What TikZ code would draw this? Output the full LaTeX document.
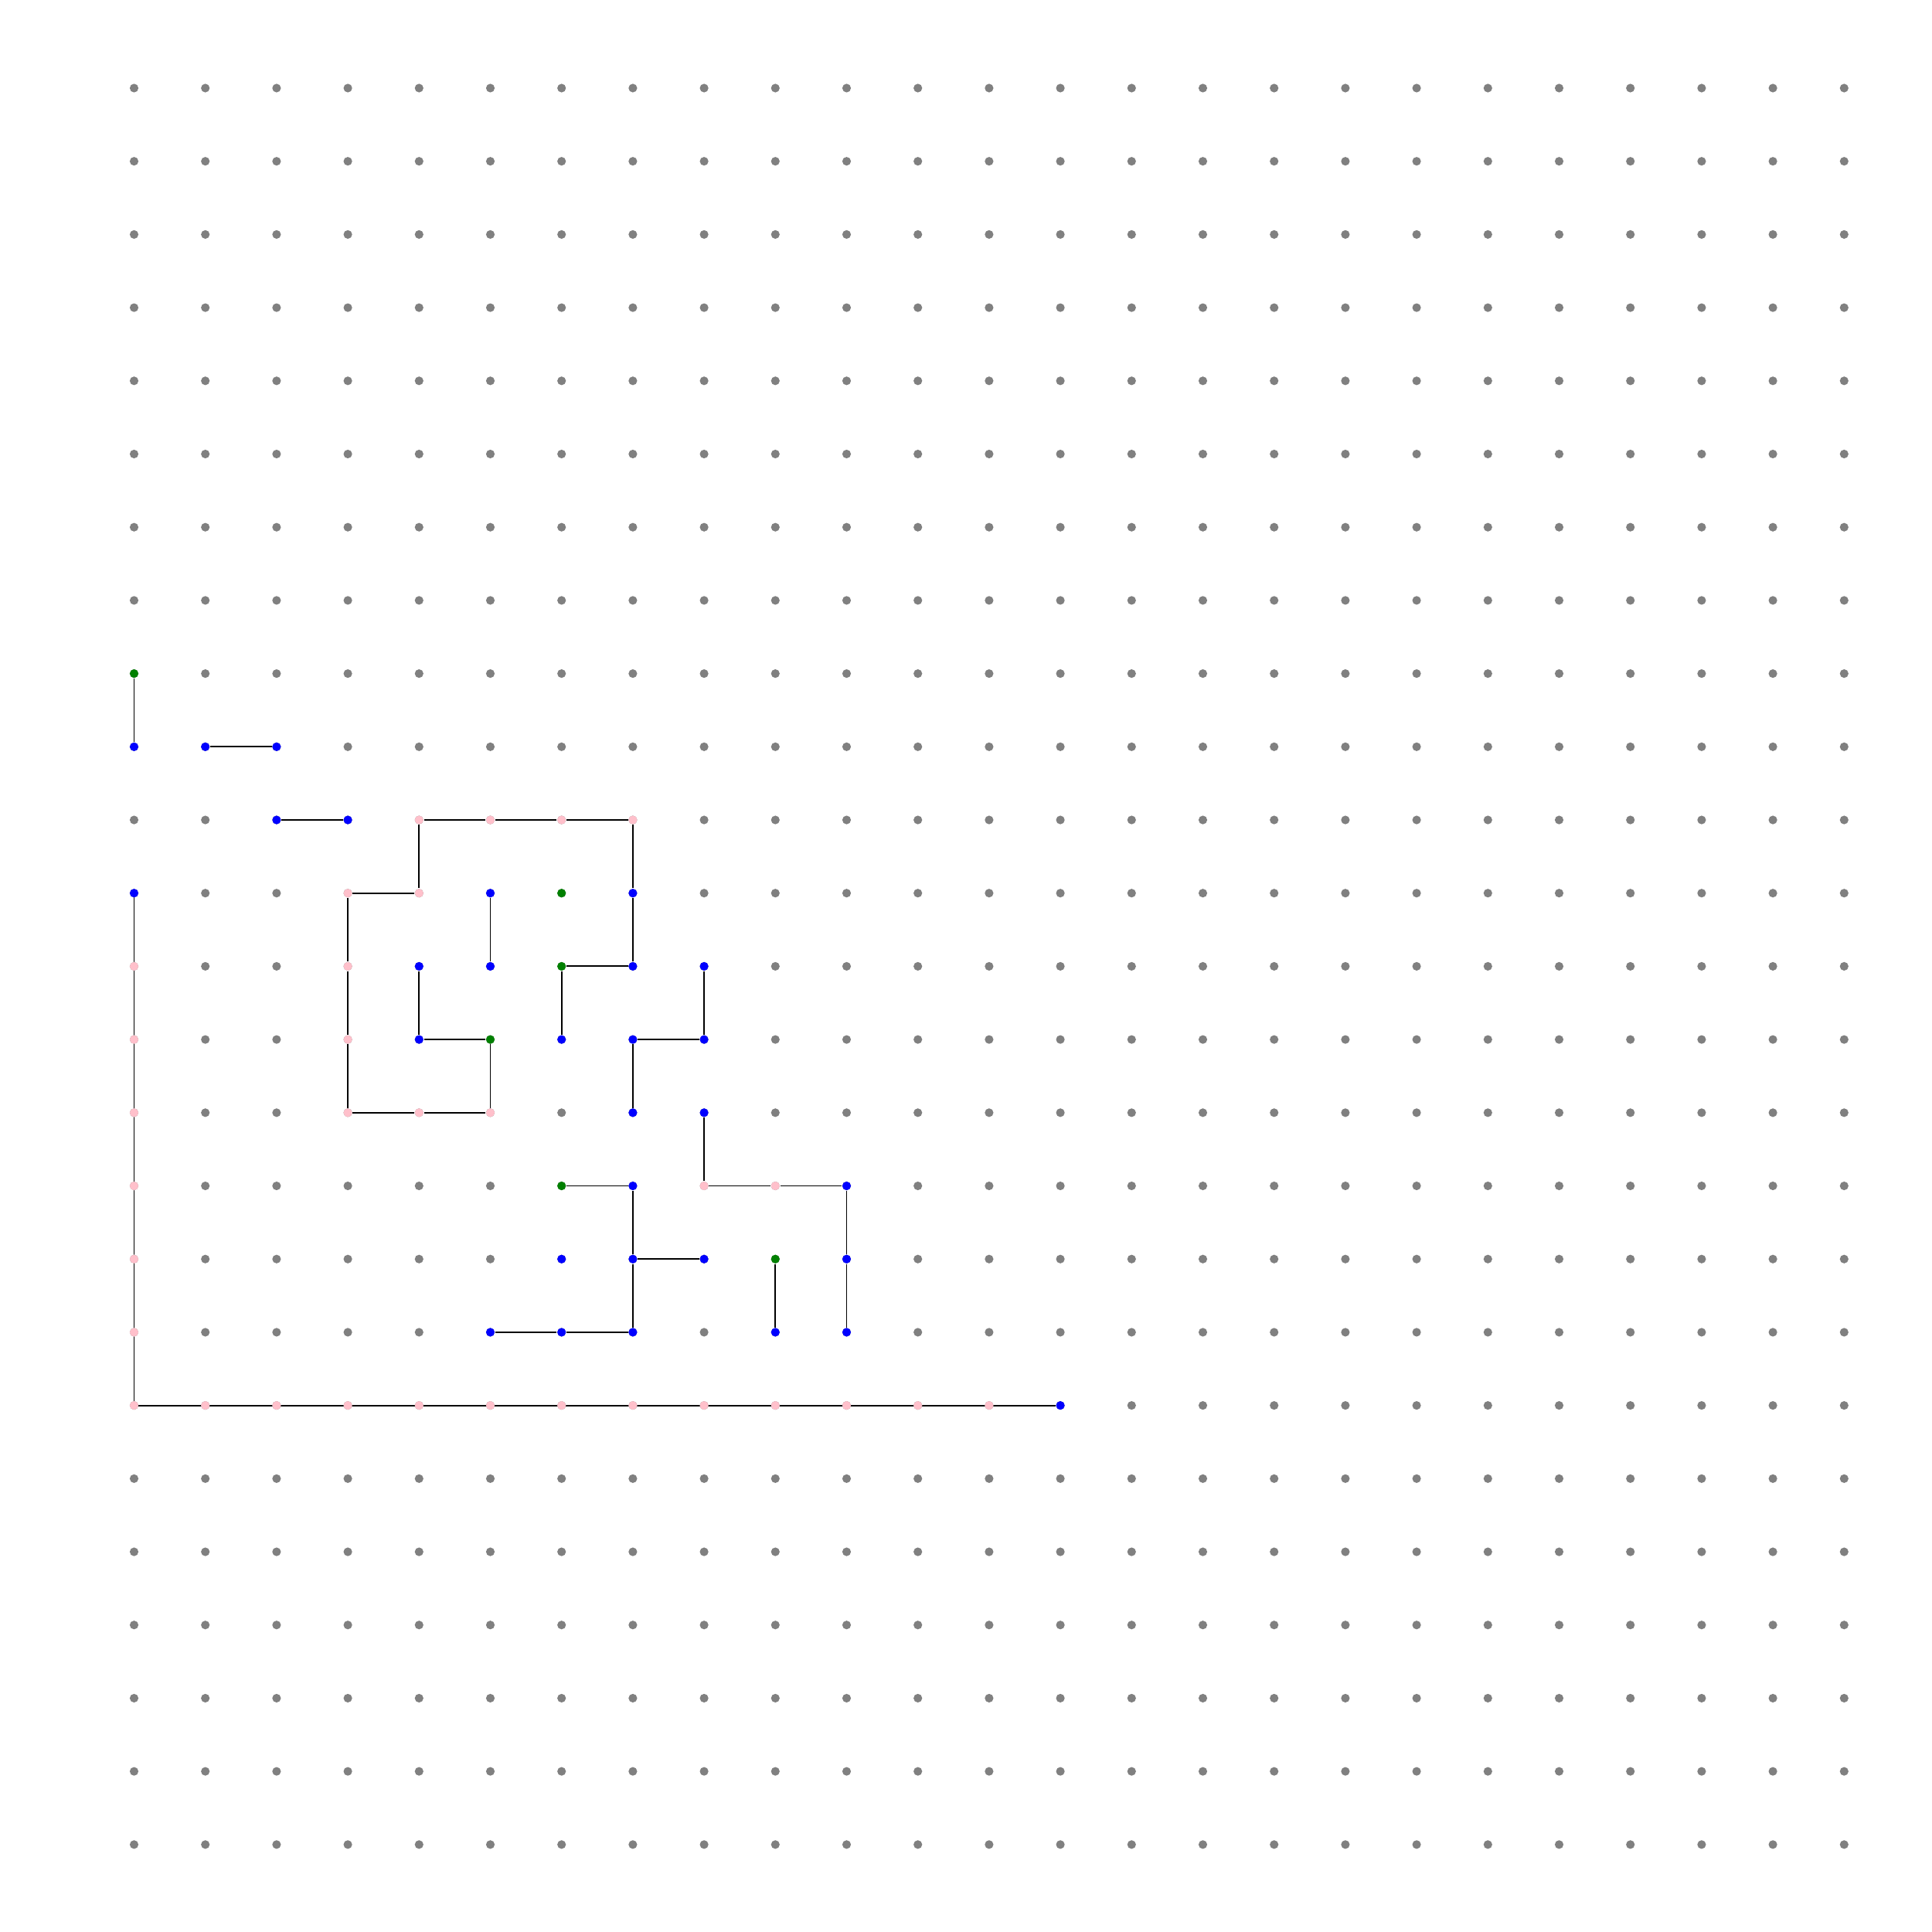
\documentclass[tikz,border=0pt]{standalone}
\usepackage{tikz}
\usetikzlibrary{positioning,backgrounds}

\definecolor{dotgray}{RGB}{128,128,128}
\definecolor{dotblue}{RGB}{0,0,255}
\definecolor{dotgreen}{RGB}{0,128,0}
\definecolor{dotpink}{RGB}{255,192,203}

\begin{document}
\begin{tikzpicture}[x=0.922cm, y=-0.947cm,
    dot/.style={circle, inner sep=0pt, minimum size=0.112cm, draw=none},
    free/.style={dot, fill=dotgray},
    blue/.style={dot, fill=dotblue},
    green/.style={dot, fill=dotgreen},
    pink/.style={dot, fill=dotpink},
    link/.style={draw=black, line width=0.55pt}]

    \useasboundingbox (-1.735cm,1.14cm) rectangle (23.265cm,-23.86cm);

    % the grid
    \foreach \i in {0,...,24}
        \foreach \j in {0,...,24}
            \node[free] (g-\i-\j) at (\i,\j) {};

    % coloured vertices
    \foreach \i/\j in {0/9, 1/9, 2/9, 2/10, 3/10, 0/11, 5/11, 7/11, 4/12, 5/12,
                       7/12, 8/12, 4/13, 6/13, 7/13, 8/13, 7/14, 8/14, 7/15,
                       10/15, 6/16, 7/16, 8/16, 10/16, 5/17, 6/17, 7/17, 9/17,
                       10/17, 13/18}
        \node[blue] (v-\i-\j) at (g-\i-\j) {};
    \foreach \i/\j in {0/8, 6/11, 6/12, 5/13, 6/15, 9/16}
        \node[green] (v-\i-\j) at (g-\i-\j) {};
    \foreach \i/\j in {4/10, 5/10, 6/10, 7/10, 3/11, 4/11, 0/12, 3/12, 0/13,
                       3/13, 0/14, 3/14, 4/14, 5/14, 8/15, 9/15, 0/15, 0/16,
                       0/17, 0/18, 1/18, 2/18, 3/18, 4/18, 5/18, 6/18, 7/18,
                       8/18, 9/18, 10/18, 11/18, 12/18}
        \node[pink] (v-\i-\j) at (g-\i-\j) {};

    % paths
    \begin{scope}[on background layer]
    \path[link]
        (v-0-8) edge (v-0-9)
        (v-1-9) edge (v-2-9)
        (v-2-10) edge (v-3-10)
        (v-5-11) edge (v-5-12)
        (v-7-16) edge (v-8-16)
        (v-9-16) edge (v-9-17);
    \draw[link] (v-4-10) -- (v-5-10) -- (v-6-10) -- (v-7-10) -- (v-7-11)
        -- (v-7-12) -- (v-6-12) -- (v-6-13);
    \draw[link] (v-4-10) -- (v-4-11) -- (v-3-11) -- (v-3-12) -- (v-3-13)
        -- (v-3-14) -- (v-4-14) -- (v-5-14) -- (v-5-13) -- (v-4-13) -- (v-4-12);
    \draw[link] (v-8-12) -- (v-8-13) -- (v-7-13) -- (v-7-14);
    \draw[link] (v-8-14) -- (v-8-15) -- (v-9-15) -- (v-10-15) -- (v-10-16)
        -- (v-10-17);
    \draw[link] (v-6-15) -- (v-7-15) -- (v-7-16) -- (v-7-17) -- (v-6-17)
        -- (v-5-17);
    \draw[link] (v-0-11.center) -- (v-0-18.center) -- (v-13-18);
    \end{scope}
\end{tikzpicture}
\end{document}
